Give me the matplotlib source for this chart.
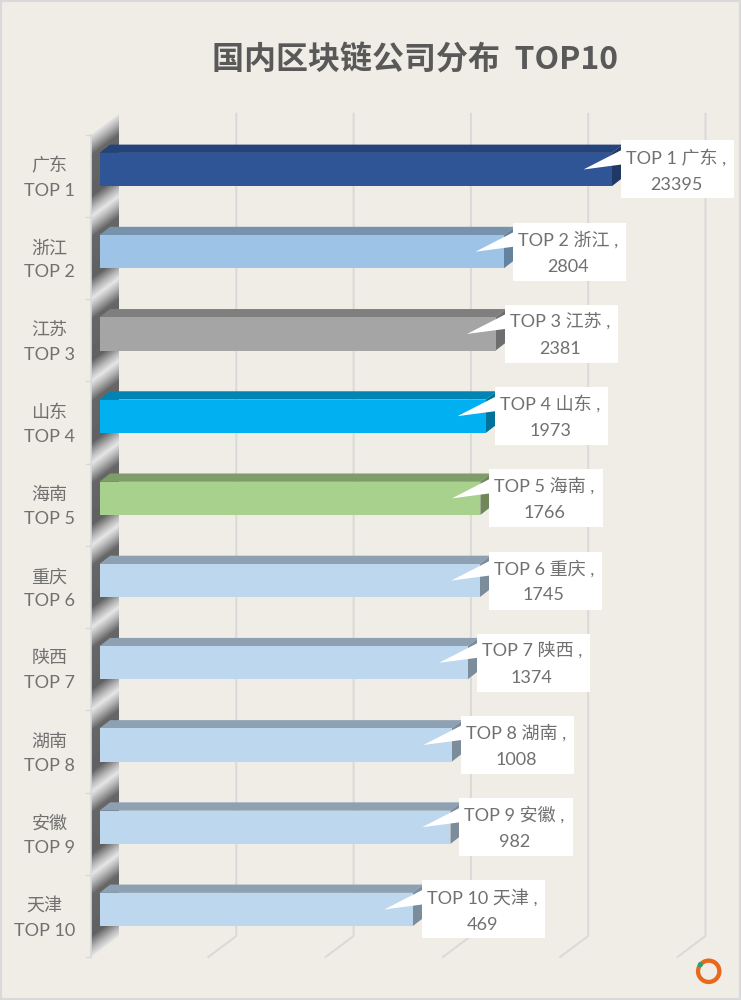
import numpy as np
import matplotlib
matplotlib.use("Agg")
import matplotlib.pyplot as plt
from matplotlib.patches import Polygon, Rectangle, Wedge, Circle
from matplotlib.transforms import Affine2D

# ---- data ----
title = "国内区块链公司分布  TOP10"
regions = ["广东", "浙江", "江苏", "山东", "海南", "重庆", "陕西", "湖南", "安徽", "天津"]
ranks = ["TOP 1", "TOP 2", "TOP 3", "TOP 4", "TOP 5", "TOP 6", "TOP 7", "TOP 8", "TOP 9", "TOP 10"]
values = [23395, 2804, 2381, 1973, 1766, 1745, 1374, 1008, 982, 469]
front_colors = ["#2F5597", "#9DC3E6", "#A5A5A5", "#00B0F0", "#A9D18E",
                "#BDD7EE", "#BDD7EE", "#BDD7EE", "#BDD7EE", "#BDD7EE"]
top_colors = ["#24437A", "#7692AD", "#7F7F7F", "#0084B4", "#7F9D6A",
              "#8EA1B3", "#8EA1B3", "#8EA1B3", "#8EA1B3", "#8EA1B3"]
side_colors = ["#1F3864", "#65829E", "#6E6E6E", "#00729C", "#6E885B",
               "#7B8C9B", "#7B8C9B", "#7B8C9B", "#7B8C9B", "#7B8C9B"]
grid_values = [10, 100, 1000, 10000, 100000]

W, H = 741, 1000
BG = "#EFEDE5"
TXT = "#707070"
GRID = "#D9D9D9"
LATIN_CJK = ["Lato", "Noto Sans CJK SC", "DejaVu Sans"]

fig = plt.figure(figsize=(W / 100, H / 100), dpi=100, facecolor=BG)
PX = Affine2D().scale(1, -1).translate(0, H)  # reference pixel coords -> display

# full-figure axes in pixel coordinates for the 3D wall
bg = fig.add_axes([0, 0, 1, 1], zorder=0)
bg.set_xlim(0, W)
bg.set_ylim(H, 0)
bg.axis("off")

# main log axes (front plane of the bars)
x0, decade = 99.5, 117.3
top_px, row = 169.5 - 82.22 / 2, 82.22
ax = fig.add_axes([x0 / W, 1 - (top_px + 10 * row) / H, 5 * decade / W, 10 * row / H],
                  zorder=1)
ax.set_xscale("log")
ax.set_xlim(1, 100000)
ax.set_ylim(9.5, -0.5)
ax.patch.set_visible(False)
ax.set_xticks([])
ax.minorticks_off()
ax.set_yticks([])
for s in ax.spines.values():
    s.set_visible(False)
fig.canvas.draw()


def to_px(v, i):
    d = ax.transData.transform((v, i))
    return d[0], H - d[1]


# geometry of the box
DX_BACK, DY_BACK = 19.5, -14.6     # bar plane to back wall
DX_FRONT, DY_FRONT = -8.5, 6.4     # bar plane to front edge
DEPTH_X, DEPTH_Y = 10.7, -8.3      # extrusion of the bars
bar_h = 33.2 / row

# wall with repeating gradient
wx0, wx1 = x0 + DX_FRONT, x0 + DX_BACK
wy_top = top_px + DY_FRONT
wy_bot = top_px + 10 * row + DY_FRONT
xs = np.arange(int(wx0), int(wx1) + 2)
ys = np.arange(int(wy_top) - 30, int(wy_bot) + 5)
XX, YY = np.meshgrid(xs + 0.5, ys + 0.5)
tt = (YY + (XX - wx0) * 0.75 - wy_top) / row
phase = tt - np.floor(tt)
shade = np.interp(phase, [0, 0.1, 0.25, 0.75, 0.9, 1], [0.9, 0.72, 0.4, 0.38, 0.72, 0.9])
img = bg.imshow(shade, cmap="gray", vmin=0, vmax=1, aspect="auto",
                extent=(xs[0], xs[-1] + 1, ys[-1] + 1, ys[0]), interpolation="bilinear", zorder=1)
wall = Polygon([(wx0, wy_top), (wx1, wy_top + DY_BACK - DY_FRONT),
                (wx1, wy_bot + DY_BACK - DY_FRONT), (wx0, wy_bot)],
               closed=True, fc="none", ec="none", transform=bg.transData)
bg.add_patch(wall)
img.set_clip_path(wall)
bg.set_xlim(0, W)
bg.set_ylim(H, 0)

# axis line and category ticks on the front edge of the wall
bg.plot([wx0, wx0], [wy_top, wy_bot], color=GRID, lw=1.2, zorder=2)
for k in range(11):
    y = wy_top + k * row
    bg.plot([wx0 - 5, wx0], [y, y], color=GRID, lw=1.0, zorder=2)

# back-wall gridlines and their floor continuation
grid_top = wy_top + DY_BACK - DY_FRONT
grid_bot = wy_bot + DY_BACK - DY_FRONT
for g in grid_values:
    gx = to_px(g, 0)[0] + DX_BACK
    bg.plot([gx, gx, gx - (DX_BACK - DX_FRONT)], [grid_top, grid_bot, wy_bot],
            color=GRID, lw=1.4, zorder=2, solid_joinstyle="miter")

# bars
ax.barh(range(len(values)), [v - 1 for v in values], left=1, height=bar_h,
        color=front_colors, zorder=3)
for i, v in enumerate(values):
    xl, yc = to_px(1, i)
    xr, _ = to_px(v, i)
    yt, yb = yc - 33.2 / 2, yc + 33.2 / 2
    ax.add_patch(Polygon([(xl, yt), (xl + DEPTH_X, yt + DEPTH_Y), (xr + DEPTH_X, yt + DEPTH_Y), (xr, yt)],
                         closed=True, fc=top_colors[i], ec="none", transform=PX, clip_on=False, zorder=2))
    ax.add_patch(Polygon([(xr, yt), (xr + DEPTH_X, yt + DEPTH_Y), (xr + DEPTH_X, yb + DEPTH_Y), (xr, yb)],
                         closed=True, fc=side_colors[i], ec="none", transform=PX, clip_on=False, zorder=2))

# category labels
for i, (reg, rk) in enumerate(zip(regions, ranks)):
    ax.annotate(f"{reg}\n{rk}", xy=(1, i), xycoords="data",
                xytext=(-24.5 * 0.72, -8.5 * 0.72), textcoords="offset points",
                ha="right", va="center", multialignment="center", linespacing=1.62,
                fontsize=13, color=TXT, family=LATIN_CJK, annotation_clip=False)

# data labels: white callout box + wedge
renderer = fig.canvas.get_renderer()
for i, (reg, rk, v) in enumerate(zip(regions, ranks, values)):
    xr, yc = to_px(v, i)
    t = ax.annotate(f"{rk} {reg} ,\n{v}", xy=(v, i), xycoords="data",
                    xytext=(14 * 0.72, -1 * 0.72), textcoords="offset points",
                    ha="left", va="center", multialignment="center", linespacing=1.78,
                    fontsize=13, color=TXT, family=LATIN_CJK,
                    zorder=7, annotation_clip=False)
    ext = t.get_window_extent(renderer)
    left = xr + 9
    width = ext.width + 13
    ax.add_patch(Rectangle((left, yc - 29), width, 58, fc="white", ec="none",
                           transform=PX, clip_on=False, zorder=6))
    ax.add_patch(Polygon([(xr - 28.5, yc), (left + 0.5, yc - 19.5), (left + 0.5, yc - 5)],
                         closed=True, fc="white", ec="none", transform=PX, clip_on=False, zorder=6))

# title
fig.text(415 / W, 1 - 60.5 / H, title, ha="center", va="center", fontsize=23, fontweight="bold",
         color="#595959", family=["Noto Sans CJK SC", "DejaVu Sans"])

# logo
bg.add_patch(Wedge((708.7, 971.3), 12.8, 0, 360, width=4.3, fc="#E8681E", ec="none", zorder=4))
bg.add_patch(Circle((700.3, 964.7), 2.6, fc="#1FA67A", ec="none", zorder=5))

# frame
fig.add_artist(Rectangle((0, 0), 1, 1, transform=fig.transFigure, fc="none", ec=GRID, lw=3))

fig.savefig("out.png", dpi=100, facecolor=BG)
